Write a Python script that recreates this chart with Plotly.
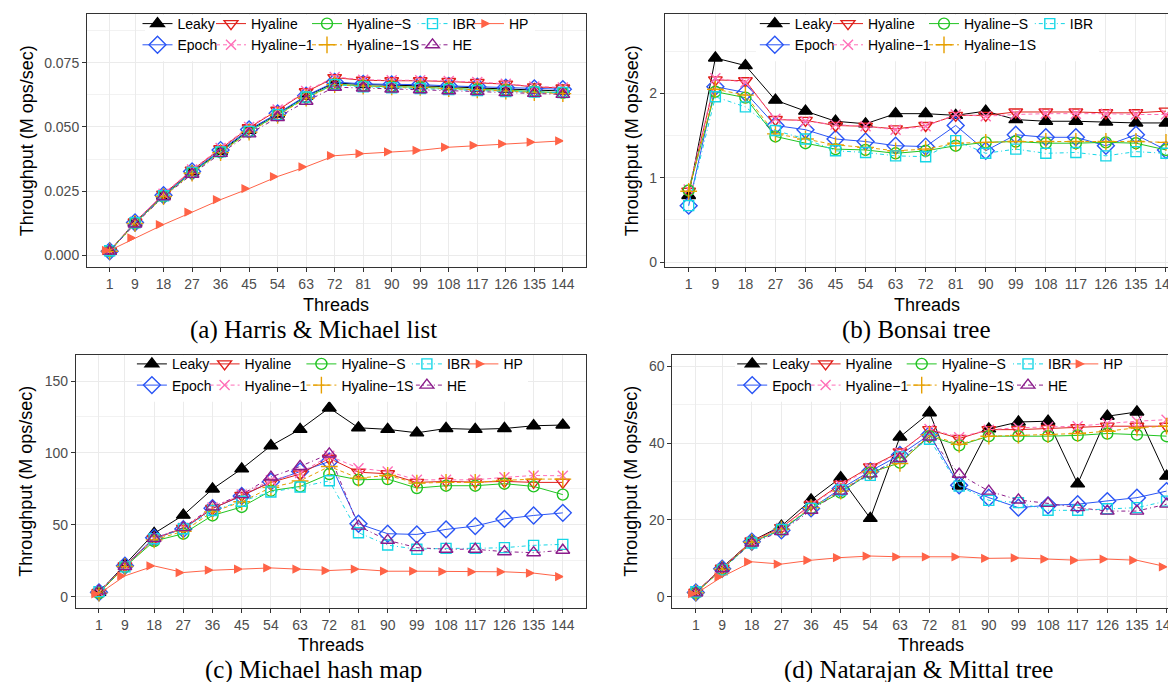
import plotly.graph_objects as go

# ---------------- data ----------------
threads = [1, 9, 18, 27, 36, 45, 54, 63, 72, 81, 90, 99, 108, 117, 126, 135, 144]
series = ["Leaky", "Epoch", "Hyaline", "Hyaline-1", "Hyaline-S", "Hyaline-1S", "IBR", "HE", "HP"]
legend_labels = ["Leaky", "Epoch", "Hyaline", "Hyaline\u22121", "Hyaline\u2212S", "Hyaline\u22121S", "IBR", "HE", "HP"]
captions = ["(a) Harris & Michael list", "(b) Bonsai tree", "(c) Michael hash map", "(d) Natarajan & Mittal tree"]
x_title = "Threads"
y_title = "Throughput (M ops/sec)"

# (a) Harris & Michael list
a_leaky     = [0.0017, 0.0127, 0.0233, 0.0325, 0.0405, 0.0487, 0.0550, 0.0620, 0.0672, 0.0665, 0.0663, 0.0661, 0.0657, 0.0652, 0.0648, 0.0645, 0.0640]
a_epoch     = [0.0016, 0.0128, 0.0234, 0.0327, 0.0410, 0.0490, 0.0553, 0.0622, 0.0675, 0.0668, 0.0666, 0.0665, 0.0660, 0.0657, 0.0653, 0.0650, 0.0647]
a_hyaline   = [0.0017, 0.0130, 0.0238, 0.0332, 0.0415, 0.0497, 0.0565, 0.0637, 0.0692, 0.0682, 0.0680, 0.0680, 0.0677, 0.0673, 0.0667, 0.0656, 0.0652]
a_hyaline1  = [0.0017, 0.0131, 0.0240, 0.0334, 0.0418, 0.0500, 0.0568, 0.0640, 0.0695, 0.0684, 0.0682, 0.0682, 0.0679, 0.0675, 0.0668, 0.0658, 0.0654]
a_hyalineS  = [0.0016, 0.0125, 0.0230, 0.0322, 0.0402, 0.0482, 0.0547, 0.0615, 0.0667, 0.0660, 0.0657, 0.0655, 0.0650, 0.0647, 0.0643, 0.0638, 0.0633]
a_hyaline1S = [0.0016, 0.0124, 0.0229, 0.0320, 0.0400, 0.0480, 0.0545, 0.0612, 0.0665, 0.0659, 0.0656, 0.0654, 0.0649, 0.0645, 0.0640, 0.0634, 0.0630]
a_ibr       = [0.0018, 0.0127, 0.0232, 0.0323, 0.0403, 0.0483, 0.0548, 0.0617, 0.0665, 0.0656, 0.0653, 0.0650, 0.0646, 0.0642, 0.0638, 0.0636, 0.0634]
a_he        = [0.0017, 0.0122, 0.0228, 0.0316, 0.0397, 0.0473, 0.0537, 0.0600, 0.0655, 0.0652, 0.0648, 0.0645, 0.0641, 0.0638, 0.0634, 0.0631, 0.0627]
a_hp        = [0.0019, 0.0068, 0.0120, 0.0168, 0.0217, 0.0260, 0.0307, 0.0345, 0.0388, 0.0396, 0.0403, 0.0409, 0.0421, 0.0428, 0.0434, 0.0441, 0.0446]

# (b) Bonsai tree
b_leaky     = [0.79, 2.42, 2.33, 1.92, 1.79, 1.67, 1.64, 1.76, 1.76, 1.74, 1.79, 1.69, 1.67, 1.67, 1.66, 1.65, 1.65]
b_epoch     = [0.67, 2.08, 2.01, 1.62, 1.57, 1.46, 1.43, 1.38, 1.37, 1.62, 1.32, 1.51, 1.48, 1.48, 1.38, 1.51, 1.33]
b_hyaline   = [0.84, 2.16, 2.15, 1.69, 1.68, 1.62, 1.61, 1.58, 1.62, 1.74, 1.74, 1.78, 1.78, 1.78, 1.77, 1.77, 1.79]
b_hyaline1  = [0.86, 2.18, 2.13, 1.70, 1.67, 1.63, 1.61, 1.57, 1.61, 1.75, 1.73, 1.75, 1.76, 1.76, 1.76, 1.75, 1.75]
b_hyalineS  = [0.85, 2.02, 1.95, 1.49, 1.41, 1.34, 1.33, 1.29, 1.32, 1.38, 1.42, 1.43, 1.41, 1.41, 1.42, 1.41, 1.33]
b_hyaline1S = [0.84, 2.05, 1.98, 1.52, 1.46, 1.39, 1.36, 1.32, 1.34, 1.41, 1.42, 1.43, 1.43, 1.43, 1.43, 1.43, 1.42]
b_ibr       = [0.67, 1.96, 1.84, 1.56, 1.46, 1.32, 1.30, 1.26, 1.25, 1.44, 1.29, 1.34, 1.29, 1.30, 1.26, 1.31, 1.29]

# (c) Michael hash map
c_leaky     = [3.0, 22.6, 44.0, 56.7, 74.9, 88.9, 105.0, 116.4, 131.3, 117.5, 116.4, 114.0, 117.0, 116.4, 117.0, 118.9, 119.4]
c_epoch     = [3.0, 21.5, 41.0, 47.0, 61.5, 70.0, 80.0, 87.1, 94.0, 50.7, 43.8, 43.3, 46.8, 49.1, 54.1, 56.5, 58.3]
c_hyaline   = [3.0, 21.4, 40.3, 47.5, 61.3, 70.5, 79.5, 85.3, 96.3, 86.6, 85.5, 79.5, 80.2, 79.7, 80.2, 79.5, 79.5]
c_hyaline1  = [3.0, 21.5, 40.5, 48.0, 62.0, 71.0, 81.0, 86.0, 98.0, 89.4, 87.1, 81.3, 81.3, 81.3, 83.0, 84.3, 84.1]
c_hyalineS  = [2.5, 20.7, 38.7, 43.8, 56.5, 62.4, 73.7, 76.7, 85.3, 81.3, 81.8, 75.6, 77.2, 77.2, 78.6, 76.7, 71.0]
c_hyaline1S = [2.5, 21.0, 39.5, 45.5, 59.0, 66.0, 76.0, 80.5, 90.6, 82.5, 84.3, 79.0, 79.5, 79.5, 80.9, 81.8, 81.8]
c_ibr       = [3.5, 20.7, 40.3, 47.2, 59.9, 66.4, 72.8, 76.3, 80.6, 44.5, 35.9, 33.0, 33.6, 33.6, 34.1, 35.7, 36.4]
c_he        = [4.0, 21.0, 40.5, 48.0, 62.5, 71.0, 83.2, 90.6, 99.3, 49.1, 39.2, 34.1, 33.0, 33.0, 31.3, 30.6, 32.3]
c_hp        = [2.0, 14.5, 21.4, 16.8, 18.4, 19.1, 20.0, 19.1, 18.2, 19.1, 17.7, 17.7, 17.5, 17.3, 17.3, 16.4, 14.0]

# (d) Natarajan & Mittal tree
d_leaky     = [1.1, 7.6, 14.5, 18.4, 25.2, 31.0, 20.4, 41.6, 47.9, 28.8, 43.7, 45.5, 45.7, 29.4, 47.0, 48.1, 31.4]
d_epoch     = [1.1, 7.3, 14.3, 17.3, 23.0, 28.1, 32.7, 36.9, 42.2, 29.0, 25.8, 23.2, 23.8, 24.1, 24.9, 25.8, 27.5]
d_hyaline   = [1.2, 7.4, 14.5, 18.0, 24.0, 29.3, 33.8, 37.7, 43.5, 41.2, 43.5, 43.5, 43.8, 44.0, 44.4, 44.4, 44.4]
d_hyaline1  = [1.2, 7.3, 14.4, 17.9, 23.8, 29.0, 33.5, 37.5, 43.7, 41.5, 43.5, 44.0, 44.2, 44.4, 45.1, 45.7, 46.1]
d_hyalineS  = [1.0, 7.2, 14.2, 17.5, 23.0, 27.1, 32.3, 34.9, 41.8, 39.4, 41.8, 41.8, 41.8, 42.0, 42.5, 42.2, 41.8]
d_hyaline1S = [1.0, 7.2, 14.2, 17.6, 23.2, 27.5, 32.5, 34.7, 42.2, 39.7, 41.8, 42.0, 42.2, 42.5, 43.1, 44.0, 44.4]
d_ibr       = [1.3, 7.0, 14.0, 17.5, 23.0, 27.8, 31.6, 36.4, 41.0, 28.8, 25.1, 24.5, 22.5, 22.5, 22.9, 23.2, 24.9]
d_he        = [1.0, 7.3, 14.0, 17.0, 22.5, 27.5, 32.0, 36.0, 41.6, 31.9, 27.5, 25.2, 24.3, 23.2, 22.3, 22.3, 24.1]
d_hp        = [0.8, 5.2, 9.1, 8.5, 9.5, 10.2, 10.6, 10.4, 10.4, 10.4, 10.0, 10.1, 9.8, 9.5, 9.8, 9.5, 7.8]

panel_data = [
    [a_leaky, a_epoch, a_hyaline, a_hyaline1, a_hyalineS, a_hyaline1S, a_ibr, a_he, a_hp],
    [b_leaky, b_epoch, b_hyaline, b_hyaline1, b_hyalineS, b_hyaline1S, b_ibr, None, None],
    [c_leaky, c_epoch, c_hyaline, c_hyaline1, c_hyalineS, c_hyaline1S, c_ibr, c_he, c_hp],
    [d_leaky, d_epoch, d_hyaline, d_hyaline1, d_hyalineS, d_hyaline1S, d_ibr, d_he, d_hp],
]

# ---------------- styles ----------------
W, H = 1176, 682
SANS = "Liberation Sans, Arial, sans-serif"
SERIF = "Liberation Serif, Times New Roman, serif"

def px(v):
    return v / W

def py(v):
    return 1 - v / H

styles = {
    "Leaky":      dict(color="#000000", symbol="triangle-up",        size=12, dash="solid"),
    "Epoch":      dict(color="#2A55F5", symbol="diamond-open",       size=13, dash="solid"),
    "Hyaline":    dict(color="#E0201B", symbol="triangle-down-open", size=12, dash="solid"),
    "Hyaline-1":  dict(color="#FF6EB8", symbol="x-thin-open",        size=10, dash="4px,3px"),
    "Hyaline-S":  dict(color="#22C422", symbol="circle-open",        size=11, dash="solid"),
    "Hyaline-1S": dict(color="#E69F00", symbol="cross-thin-open",    size=12, dash="4px,3px"),
    "IBR":        dict(color="#16D6E6", symbol="square-open",        size=10, dash="1px,3px,4px,3px"),
    "HE":         dict(color="#8B1C8B", symbol="triangle-up-open",   size=12, dash="1px,3px,4px,3px"),
    "HP":         dict(color="#FF6347", symbol="arrow-right",        size=7,  dash="solid"),
}

legend_columns = [["Leaky", "Epoch"], ["Hyaline", "Hyaline-1"], ["Hyaline-S", "Hyaline-1S"], ["IBR", "HE"], ["HP"]]

panels = [
    dict(xd=(79.0, 577.5), yd=(4.3, 259.3), xr=(-6.15, 151.15), yr=(-0.0047, 0.0939), dtick=0.025, fmt=".3f",
         ytx=18.5, xtx=328, cap=(305, 322), leg_x=[169.5, 243, 339, 444.5, 501], leg_box=(137, 527)),
    dict(xd=(656.8, 1176.0), yd=(4.3, 259.3), xr=(-6.15, 149.4), yr=(-0.062, 2.938), dtick=1, fmt="d",
         ytx=623.5, xtx=919, cap=(908.5, 322), leg_x=[786.8, 860, 956, 1061.8], leg_box=(748, 1091)),
    dict(xd=(67.8, 578.0), yd=(347.3, 602.3), xr=(-6.15, 151.15), yr=(-7.8, 168.3), dtick=50, fmt="d",
         ytx=18.5, xtx=323, cap=(305, 665), leg_x=[163.9, 236.6, 333.4, 438.9, 495.4], leg_box=(134, 520)),
    dict(xd=(664.3, 1176.0), yd=(347.3, 602.3), xr=(-6.15, 149.3), yr=(-2.9, 63.0), dtick=20, fmt="d",
         ytx=623.5, xtx=923, cap=(910, 665), leg_x=[764.2, 837.6, 933.7, 1040, 1095.3], leg_box=(727, 1121)),
]

fig = go.Figure()
layout = dict(width=W, height=H, margin=dict(l=0, r=0, t=0, b=0), paper_bgcolor="white",
              plot_bgcolor="white", showlegend=True)
annotations = []
shapes = []
legend_counter = 0

for p, (pd_, pdata) in enumerate(zip(panels, panel_data)):
    suffix = "" if p == 0 else str(p + 1)
    xa, ya = "x" + suffix, "y" + suffix
    col_ids = {}
    for c, names in enumerate(legend_columns):
        present = [n for n in names if pdata[series.index(n)] is not None]
        if not present:
            continue
        legend_counter += 1
        lid = "legend" if legend_counter == 1 else f"legend{legend_counter}"
        for n in present:
            col_ids[n] = lid
        layout[lid] = dict(
            x=px(pd_["leg_x"][c] - 40), y=py(pd_["yd"][0] - 6.5), xanchor="left", yanchor="top",
            bgcolor="rgba(0,0,0,0)", borderwidth=0, tracegroupgap=0, itemwidth=30,
            font=dict(family=SANS, size=14, color="black"), orientation="v", traceorder="normal")
    for i, name in enumerate(series):
        vals = pdata[i]
        if vals is None:
            continue
        st = styles[name]
        fig.add_trace(go.Scatter(
            x=threads, y=vals, mode="lines+markers", name=legend_labels[i],
            xaxis=xa, yaxis=ya, legend=col_ids[name],
            line=dict(color=st["color"], width=1.0, dash=st["dash"]),
            marker=dict(symbol=st["symbol"], size=st["size"], color=st["color"],
                        line=dict(color=st["color"], width=1.4)),
        ))
    axis_common = dict(showline=True, linecolor="#333333", linewidth=1, ticks="outside", ticklen=4,
                       tickcolor="#333333", tickwidth=1, showgrid=True, gridcolor="#EBEBEB", gridwidth=1,
                       zeroline=False, tickfont=dict(family=SANS, size=14, color="#4D4D4D"))
    layout["xaxis" + suffix] = dict(
        axis_common, domain=[px(pd_["xd"][0]), px(pd_["xd"][1])], range=list(pd_["xr"]),
        tickmode="array", tickvals=threads, ticktext=[str(t) for t in threads],
        anchor=ya, mirror=True)
    layout["yaxis" + suffix] = dict(
        axis_common, domain=[py(pd_["yd"][1]), py(pd_["yd"][0])], range=list(pd_["yr"]),
        tick0=0, dtick=pd_["dtick"], tickformat=pd_["fmt"], anchor=xa,
        mirror=(pd_["xd"][1] < W - 1),
        minor=dict(showgrid=True, dtick=pd_["dtick"] / 2, gridcolor="#F2F2F2", gridwidth=0.7))
    # legend white box
    shapes.append(dict(type="rect", xref="paper", yref="paper", layer="above",
                       x0=px(pd_["leg_box"][0]), x1=px(pd_["leg_box"][1]),
                       y0=py(pd_["yd"][0] + 47.4), y1=py(pd_["yd"][0] + 0.6),
                       fillcolor="white", line=dict(width=0)))
    yc = (pd_["yd"][0] + pd_["yd"][1]) / 2
    annotations.append(dict(text=y_title, x=px(pd_["ytx"]), y=py(yc), xref="paper", yref="paper",
                            showarrow=False, textangle=-90, xanchor="center", yanchor="middle",
                            font=dict(family=SANS, size=18, color="black")))
    annotations.append(dict(text=x_title, x=px(pd_["xtx"]), y=py(pd_["yd"][1] + 37.5), xref="paper",
                            yref="paper", showarrow=False, xanchor="center", yanchor="middle",
                            font=dict(family=SANS, size=18, color="black")))
    annotations.append(dict(text=captions[p], x=px(pd_["cap"][0]), y=py(pd_["cap"][1]), xref="paper",
                            yref="paper", showarrow=False, xanchor="center", yanchor="middle",
                            font=dict(family=SERIF, size=25, color="black")))

layout["annotations"] = annotations
layout["shapes"] = shapes
fig.update_layout(**layout)
fig.write_html("out.html")
